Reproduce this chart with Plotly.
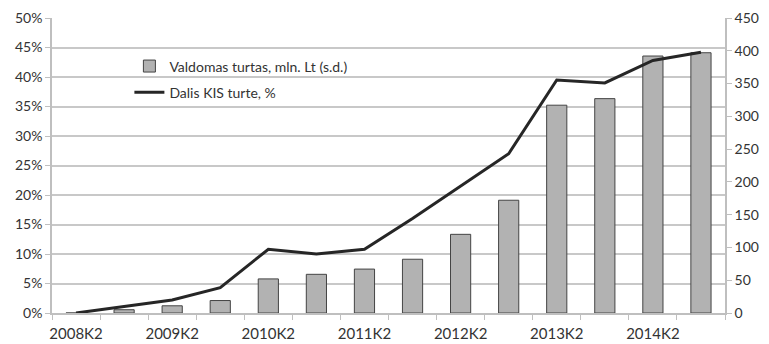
import plotly.graph_objects as go

categories = ["2008K2", "2008K4", "2009K2", "2009K4", "2010K2", "2010K4", "2011K2",
              "2011K4", "2012K2", "2012K4", "2013K2", "2013K4", "2014K2", "2014K4"]
assets = [0, 5, 11, 19, 52, 59, 67, 82, 120, 172, 317, 327, 392, 397]
share_pct = [0, 1.1, 2.2, 4.3, 10.8, 10.0, 10.8, 16.0, 21.5, 27.0, 39.5, 39.0, 42.8, 44.2]

idx = list(range(len(categories)))
fam = "Lato, Open Sans, sans-serif"
font = dict(family=fam, size=14, color="#333333")
xfont = dict(family=fam, size=15, color="#333333")

fig = go.Figure()
fig.add_trace(go.Bar(
    x=idx, y=assets, name="Valdomas turtas, mln. Lt (s.d.)", legendgroup="a",
    marker=dict(color="#b2b2b2", line=dict(color="#444444", width=1)),
    width=0.42, yaxis="y", xaxis="x"))
fig.add_trace(go.Scatter(
    x=idx, y=share_pct, name="Dalis KIS turte, %", mode="lines", legendgroup="b",
    line=dict(color="#262626", width=3), yaxis="y2", xaxis="x"))

fig.update_layout(
    width=769, height=344,
    margin=dict(l=52, r=44, t=18, b=31),
    paper_bgcolor="white", plot_bgcolor="white",
    font=font,
    showlegend=True,
    legend=dict(x=0.115, y=0.89, xanchor="left", yanchor="top",
                bgcolor="rgba(0,0,0,0)", font=font, tracegroupgap=5,
                itemwidth=30),
    xaxis=dict(
        range=[-0.5, len(categories) - 0.5], automargin=False,
        tickmode="array", tickvals=idx[::2], ticktext=categories[::2],
        ticks="", showgrid=False, showline=True, linecolor="#bfbfbf", linewidth=1.5,
        zeroline=False, tickfont=xfont, ticklabelstandoff=6,
        minor=dict(tickmode="array", tickvals=[i - 0.5 for i in idx] + [len(idx) - 0.5],
                   ticks="outside", ticklen=5, tickcolor="#bfbfbf", showgrid=False),
    ),
    yaxis=dict(
        side="right", range=[0, 450], dtick=50, showgrid=False, automargin=False,
        showline=True, linecolor="#bfbfbf", linewidth=1.5,
        ticks="outside", ticklen=5, tickcolor="#bfbfbf",
        zeroline=False, tickfont=font,
    ),
    yaxis2=dict(
        side="left", overlaying="y", range=[0, 50], dtick=5, ticksuffix="%",
        automargin=False,
        showgrid=True, gridcolor="#c8c8c8", gridwidth=1.5,
        showline=True, linecolor="#bfbfbf", linewidth=1.5,
        ticks="outside", ticklen=5, tickcolor="#bfbfbf",
        zeroline=False, tickfont=font,
    ),
)

fig.write_html("out.html")
